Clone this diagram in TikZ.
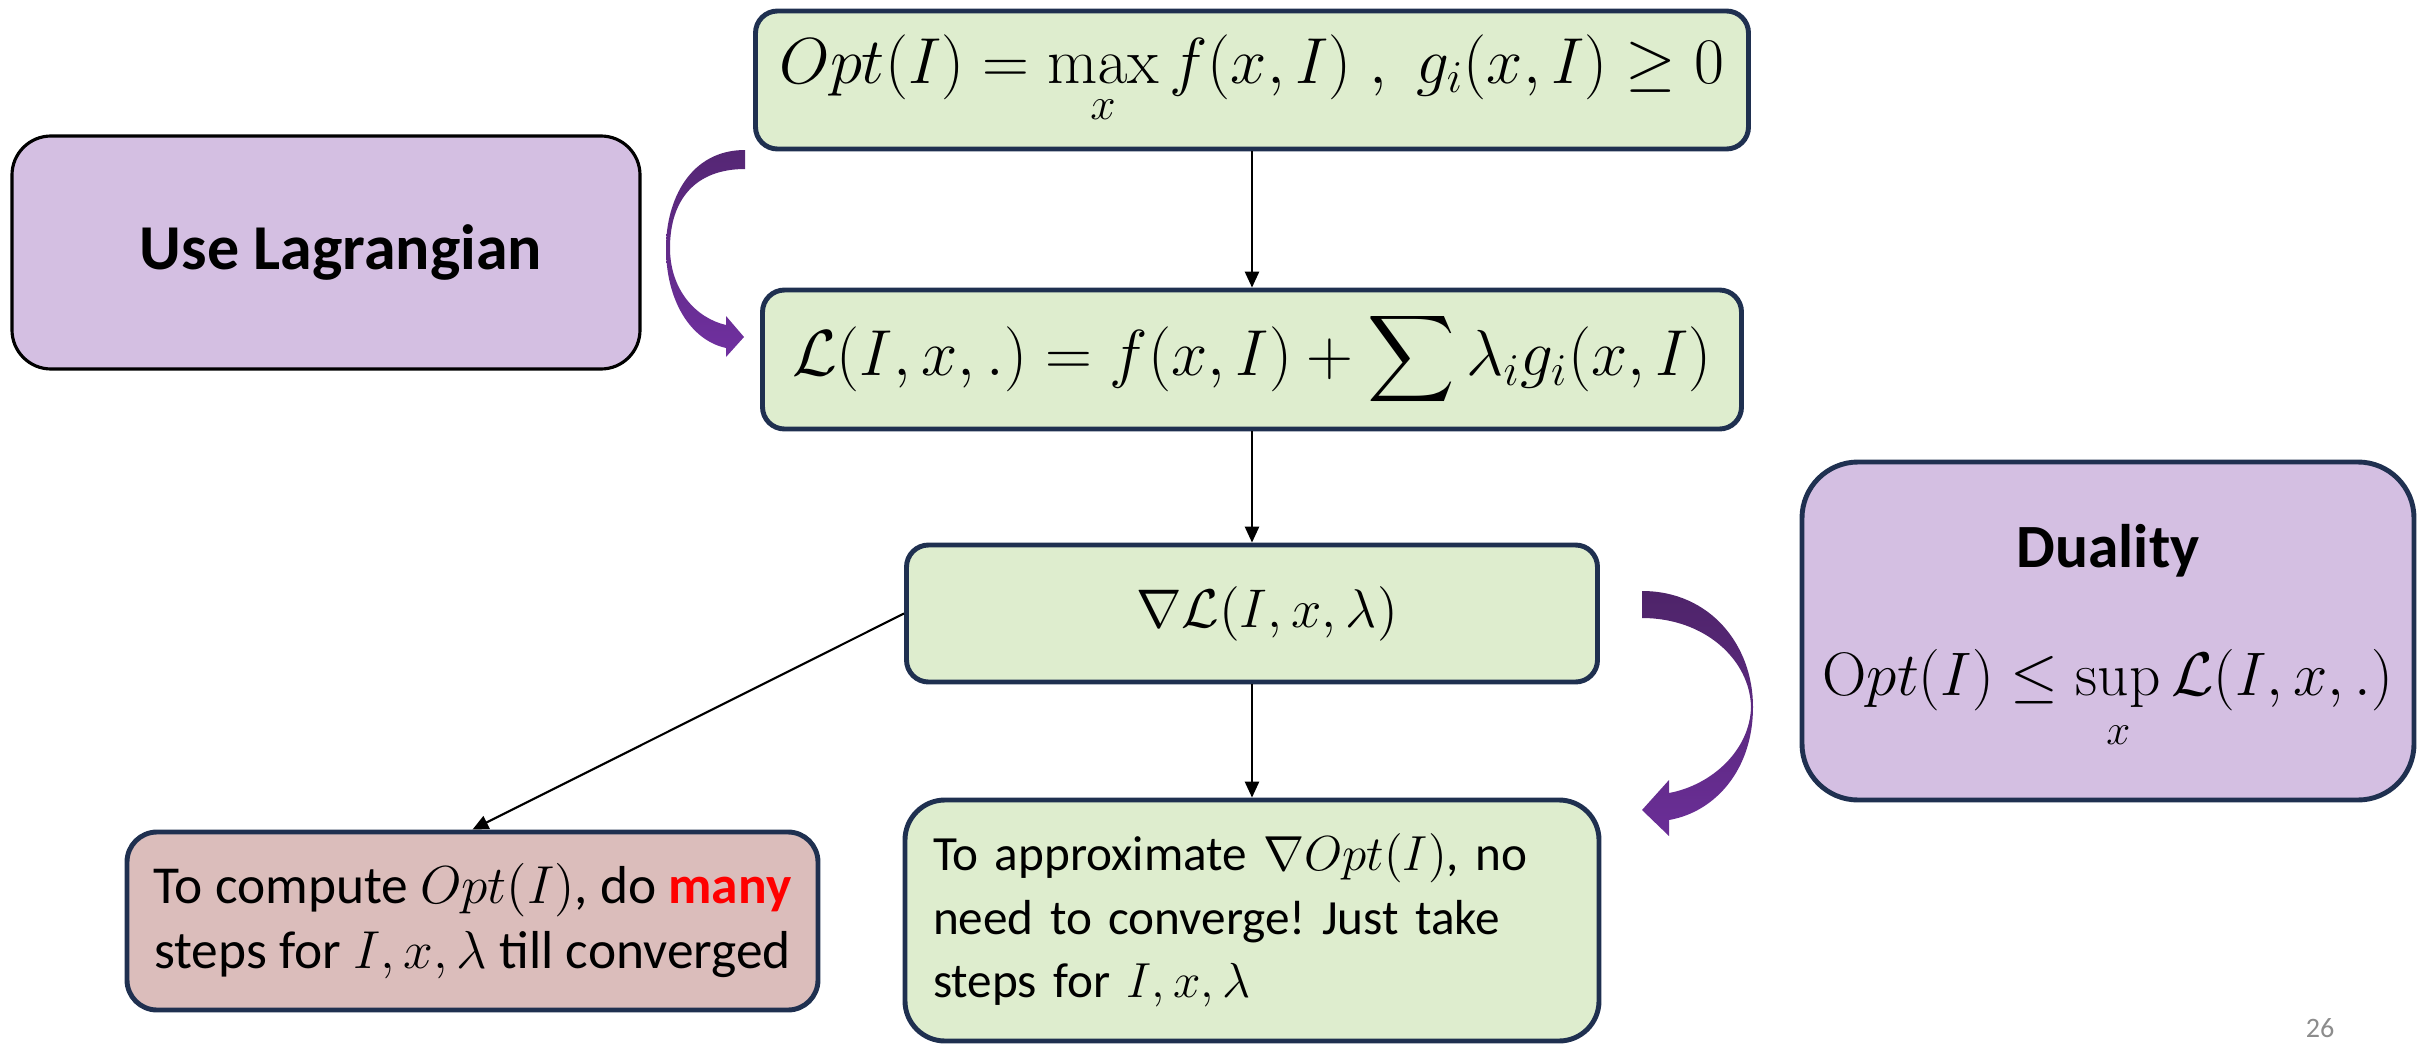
\RequirePackage{fix-cm}
\documentclass[tikz,border=0pt]{standalone}
\usepackage{amsmath}
\usepackage[no-math]{fontspec}
\setmainfont{Carlito}
\usetikzlibrary{arrows.meta}
\frenchspacing

\definecolor{boxgreen}{HTML}{DEEDCE}
\definecolor{boxpurple}{HTML}{D4BFE2}
\definecolor{boxred}{HTML}{DBBDBB}
\definecolor{boxline}{HTML}{1F3050}
\definecolor{arrowdark}{HTML}{4E2469}
\definecolor{arrowlight}{HTML}{7030A0}
\definecolor{pagegray}{HTML}{8C8C8C}

\begin{document}
\begin{tikzpicture}[
greenbox/.style={draw=boxline,line width=1.4pt,fill=boxgreen,
  rounded corners=0.22cm,inner sep=0pt},
purplebox/.style={draw=boxline,line width=1.4pt,fill=boxpurple,
  rounded corners=0.5cm,inner sep=0pt},
redbox/.style={draw=boxline,line width=1.4pt,fill=boxred,
  rounded corners=0.3cm,inner sep=0pt},
link/.style={draw,line width=0.6pt,-{Triangle[length=4.5pt,width=4pt]}}
]

\useasboundingbox
(0,0)
rectangle
(24.30,-10.45);

% Probleme
\node[greenbox,minimum width=9.93cm,minimum height=1.38cm,
font=\fontsize{18.5}{22}\selectfont] (opt) at (12.52,-0.80)
{$\displaystyle Opt(I)=\max_x f(x,I)\;,\;g_i(x,I)\geq 0$};

\node[greenbox,minimum width=9.79cm,minimum height=1.39cm,
font=\fontsize{18.5}{22}\selectfont] (lag) at (12.52,-3.595)
{$\displaystyle \mathcal{L}(I,x,.)=f(x,I)+\sum\lambda_i g_i(x,I)$};

\node[greenbox,minimum width=6.91cm,minimum height=1.37cm,
font=\fontsize{15.5}{18}\selectfont] (grad) at (12.52,-6.135)
{\hspace*{0.3cm}$\nabla\mathcal{L}(I,x,\lambda)$};

% Lagrangien
\node[purplebox,draw=black,line width=0.9pt,rounded corners=0.39cm,
minimum width=6.28cm,minimum height=2.33cm,
font=\fontsize{18.2}{22}\selectfont\bfseries] (use) at (3.26,-2.525)
{\hspace*{0.3cm}Use Lagrangian};

% Dualite
\node[purplebox,rounded corners=0.56cm,
minimum width=6.12cm,minimum height=3.38cm,align=center,
font=\fontsize{17.5}{21}\selectfont] (dual) at (21.08,-6.31)
{\rule{0pt}{16pt}\textbf{Duality}\\[0.54cm]
$\displaystyle \mathrm{O}pt(I)\leq\sup_x\mathcal{L}(I,x,.)$};

% Conclusions
\node[redbox,minimum width=6.91cm,minimum height=1.78cm,align=center,
font=\fontsize{15.2}{18.5}\selectfont] (many) at (4.725,-9.21)
{To compute $Opt(I)$, do {\bfseries\color{red}many}\\
steps for $I,x,\lambda$ till converged};

\node[greenbox,rounded corners=0.4cm,minimum height=2.41cm,
inner xsep=0.28cm,text width=6.38cm,align=left,
font=\fontsize{14}{18}\selectfont] (approx) at (12.52,-9.205)
{To approximate $\nabla Opt(I)$, no\\
need to converge! Just take\\
steps for $I,x,\lambda$};

% Fleches
\draw[link]
(opt.south)
--
(lag.north);

\draw[link]
(lag.south)
--
(grad.north);

\draw[link]
(grad.south)
--
(approx.north);

\draw[link]
(grad.west)
--
(many.north);

% Fleches courbes
\shade[top color=arrowdark!80!arrowlight,bottom color=arrowlight]
(7.45,-1.50)
.. controls (6.90,-1.50) and (6.66,-2.00) .. (6.66,-2.48)
.. controls (6.66,-3.00) and (6.90,-3.40) .. (7.26,-3.48)
-- (7.26,-3.57)
-- (7.44,-3.37)
-- (7.26,-3.16)
-- (7.26,-3.25)
.. controls (6.96,-3.18) and (6.70,-2.90) .. (6.70,-2.48)
.. controls (6.70,-2.00) and (6.95,-1.69) .. (7.45,-1.69)
-- cycle;

\shade[top color=arrowdark,bottom color=arrowlight!85!arrowdark]
(16.42,-5.91)
.. controls (17.10,-5.91) and (17.53,-6.45) .. (17.53,-7.07)
.. controls (17.53,-7.70) and (17.15,-8.12) .. (16.69,-8.20)
-- (16.69,-8.36)
-- (16.42,-8.10)
-- (16.69,-7.80)
-- (16.69,-7.93)
.. controls (17.12,-7.85) and (17.50,-7.50) .. (17.51,-7.07)
.. controls (17.50,-6.60) and (17.05,-6.18) .. (16.42,-6.18)
-- cycle;

% Page
\node[text=pagegray,font=\fontsize{8}{10}\selectfont] (page) at (23.20,-10.28)
{26};

\end{tikzpicture}
\end{document}
